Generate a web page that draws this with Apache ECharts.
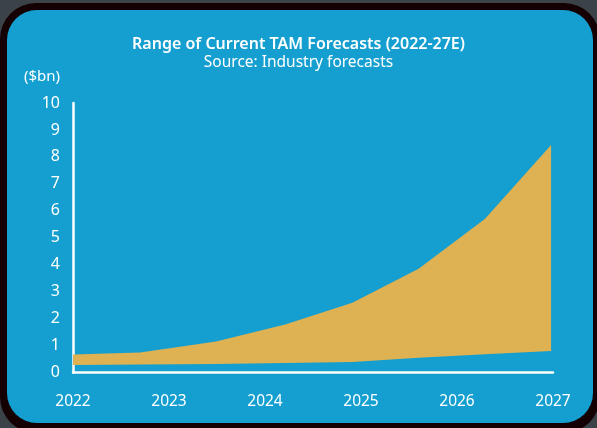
<!DOCTYPE html>
<html>
<head>
<meta charset="utf-8">
<script src="https://cdn.jsdelivr.net/npm/echarts@6/dist/echarts.min.js"></script>
<style>
  html, body { margin:0; padding:0; width:597px; height:428px; overflow:hidden; background:#3b4348; }
  #frame { position:absolute; left:0; top:3px; width:600px; height:430px; background:#140003; border-radius:36px; }
  #panel { position:absolute; left:7px; top:10px; width:586px; height:413px; background:#149fd0; border-radius:30px; }
  #chart { position:absolute; left:0; top:0; width:597px; height:428px; }
</style>
</head>
<body>
<div id="frame"></div>
<div id="panel"></div>
<div id="chart"></div>
<script>
// Tick labels (years) and y ticks
const years = [2022, 2023, 2024, 2025, 2026, 2027];
const yTicks = [0, 1, 2, 3, 4, 5, 6, 7, 8, 9, 10];
// Points along the x-axis (fractional years) where the forecast band is drawn
const xPoints = [2022.0, 2022.70, 2023.49, 2024.21, 2024.91, 2025.60, 2026.29, 2026.98];
// Upper and lower bound of TAM forecasts ($bn)
const upper = [0.67, 0.74, 1.15, 1.78, 2.59, 3.85, 5.70, 8.44];
const lower = [0.28, 0.30, 0.32, 0.35, 0.39, 0.55, 0.68, 0.80];

const bandRows = xPoints.map((x, i) => [x, lower[i], upper[i]]);

const chart = echarts.init(document.getElementById('chart'), null, { renderer: 'canvas' });
const font = '"Noto Sans", sans-serif';
chart.setOption({
  backgroundColor: 'transparent',
  animation: false,
  title: {
    text: 'Range of Current TAM Forecasts (2022-27E)',
    subtext: 'Source: Industry forecasts',
    left: 'center',
    top: 31,
    itemGap: 3,
    textStyle: { color: '#ffffff', fontSize: 16, fontWeight: 600, fontFamily: font },
    subtextStyle: { color: '#ffffff', fontSize: 15.5, fontWeight: 'normal', fontFamily: font }
  },
  graphic: [{
    type: 'text', left: 24, top: 69,
    style: { text: '($bn)', fill: '#ffffff', font: '15px ' + font }
  }],
  grid: { left: 73, right: 44, top: 103, bottom: 55.5, containLabel: false },
  xAxis: {
    type: 'value', min: years[0], max: years[years.length - 1], interval: 1,
    axisLine: { show: true, lineStyle: { color: '#ffffff', width: 2.5 } },
    axisTick: { show: false },
    splitLine: { show: false },
    axisLabel: { color: '#ffffff', fontSize: 15.5, fontFamily: font, margin: 21, formatter: v => String(v) }
  },
  yAxis: {
    type: 'value', min: yTicks[0], max: yTicks[yTicks.length - 1], interval: 1,
    axisLine: { show: true, lineStyle: { color: '#ffffff', width: 2.5 } },
    axisTick: { show: false },
    splitLine: { show: false },
    axisLabel: { color: '#ffffff', fontSize: 16, fontFamily: font, margin: 13 }
  },
  series: [{
    type: 'custom',
    data: [0],
    z: 1,
    renderItem: function (params, api) {
      const top = bandRows.map(r => api.coord([r[0], r[2]]));
      const bottom = bandRows.slice().reverse().map(r => api.coord([r[0], r[1]]));
      return {
        type: 'polygon',
        shape: { points: top.concat(bottom) },
        style: { fill: '#deb152' }
      };
    }
  }]
});
</script>
</body>
</html>
